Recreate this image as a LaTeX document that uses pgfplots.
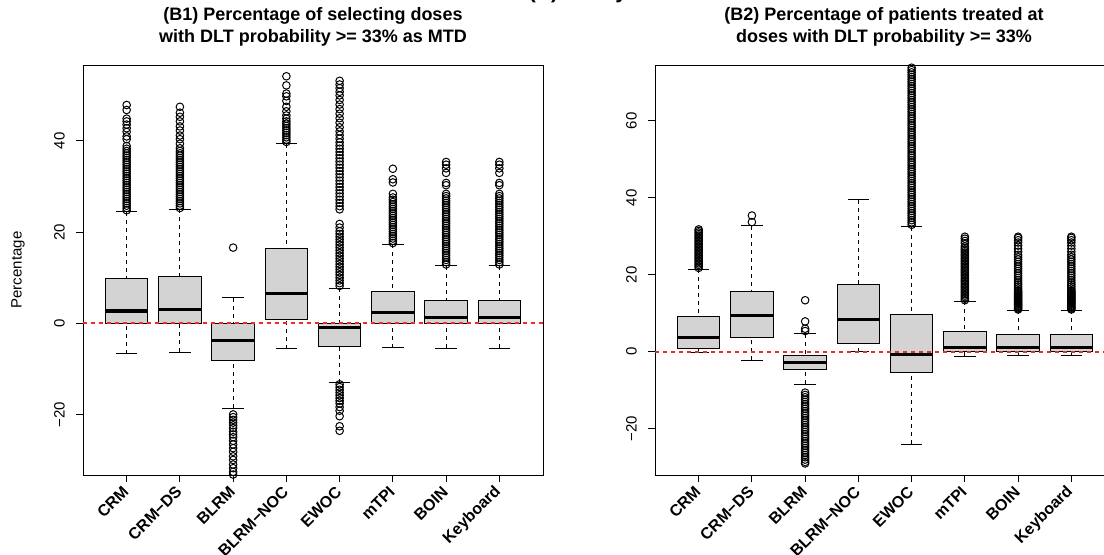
\documentclass[border=0pt]{standalone}
\usepackage{fontspec}
\setmainfont{Liberation Sans}
\usepackage{pgfplots}
\pgfplotsset{compat=1.18}
\usepgfplotslibrary{statistics}

\definecolor{rgray}{RGB}{211,211,211}
\definecolor{rline}{RGB}{240,40,40}

\pgfplotsset{
  rbox/.style={
    black, line width=0.5pt, mark=o, mark size=1.9pt,
    mark options={solid, line width=0.5pt},
    boxplot/draw direction=y,
    boxplot/box extend=0.8, boxplot/whisker extend=0.4,
    boxplot/every box/.style={fill=rgray, draw=black},
    boxplot/every median/.style={line width=1.6pt},
    boxplot/draw/lower whisker/.code={
      \draw[dash pattern=on 2pt off 2pt]
        (boxplot box cs:\pgfplotsboxplotvalue{lower whisker},0.5)
        -- (boxplot box cs:\pgfplotsboxplotvalue{lower quartile},0.5);
      \draw (boxplot whisker cs:\pgfplotsboxplotvalue{lower whisker},0)
        -- (boxplot whisker cs:\pgfplotsboxplotvalue{lower whisker},1);
    },
    boxplot/draw/upper whisker/.code={
      \draw[dash pattern=on 2pt off 2pt]
        (boxplot box cs:\pgfplotsboxplotvalue{upper whisker},0.5)
        -- (boxplot box cs:\pgfplotsboxplotvalue{upper quartile},0.5);
      \draw (boxplot whisker cs:\pgfplotsboxplotvalue{upper whisker},0)
        -- (boxplot whisker cs:\pgfplotsboxplotvalue{upper whisker},1);
    },
  },
  zeroline/.style={draw=rline, line width=0.8pt, dash pattern=on 2pt off 2pt, no marks},
  panel/.style={
    scale only axis, anchor=south west,
    width=230pt, height=204.6pt,
    xmin=0.18, xmax=8.82,
    xtick={1,...,8},
    xticklabels={CRM,CRM−DS,BLRM,BLRM−NOC,EWOC,mTPI,BOIN,Keyboard},
    xticklabel style={xshift=2pt, yshift=-1pt, rotate=45, anchor=east,
      font=\fontsize{8}{9}\selectfont\bfseries},
    yticklabel style={xshift=-2pt, rotate=90, anchor=south, font=\fontsize{7.5}{9}\selectfont},
    xtick pos=bottom, ytick pos=left,
    tick align=outside, major tick length=3.6pt,
    every tick/.style={black, line width=0.5pt},
    axis line style={line width=0.5pt},
  },
}

\begin{document}
\begin{tikzpicture}

% cut-off overall title
\node[font=\bfseries\fontsize{10.5}{12}\selectfont, anchor=base] at (289pt,277.6pt) {(B) Safety};

% ---------- (B1) ----------
\node[font=\bfseries\fontsize{9}{11}\selectfont, align=center] at (156.5pt,263.5pt)
  {(B1) Percentage of selecting doses\\with DLT probability >= 33\% as MTD};
\node[font=\fontsize{7.5}{9}\selectfont, rotate=90] at (9pt,142pt) {Percentage};

\begin{axis}[panel, at={(41.5pt,39.5pt)},
  ymin=-33.3, ymax=56.5,
  ytick={-20,0,20,40}, yticklabels={−20,0,20,40}]

% CRM
\addplot[rbox, boxplot prepared={draw position=1, lower whisker=-6.7, lower quartile=0,
  median=2.7, upper quartile=9.9, upper whisker=24.5}]
  table[row sep=\\, y index=0, header=false] {24.8\\25.3\\25.8\\26.3\\26.8\\27.3\\27.8\\28.3\\28.8\\29.3\\29.8\\30.3\\30.8\\31.3\\31.8\\32.3\\32.8\\33.3\\33.8\\34.3\\34.8\\35.3\\35.8\\36.3\\36.8\\37.3\\37.8\\38.3\\38.9\\40.4\\41.0\\42.0\\42.8\\43.6\\44.3\\44.9\\46.8\\47.9\\};
% CRM-DS
\addplot[rbox, boxplot prepared={draw position=2, lower whisker=-6.4, lower quartile=0,
  median=3.1, upper quartile=10.2, upper whisker=25.0}]
  table[row sep=\\, y index=0, header=false] {25.3\\25.8\\26.3\\26.8\\27.3\\27.8\\28.3\\28.8\\29.3\\29.8\\30.3\\30.8\\31.3\\31.8\\32.3\\32.8\\33.3\\33.8\\34.3\\34.8\\35.3\\35.8\\36.3\\36.8\\37.3\\37.8\\38.4\\39.4\\40.4\\41.2\\42.3\\43.2\\44.3\\45.3\\46.2\\47.5\\};
% BLRM
\addplot[rbox, boxplot prepared={draw position=3, lower whisker=-18.7, lower quartile=-8.1,
  median=-3.7, upper quartile=0, upper whisker=5.6}]
  table[row sep=\\, y index=0, header=false] {16.6\\-20.0\\-20.6\\-21.2\\-21.8\\-22.4\\-23.0\\-23.8\\-24.4\\-25.0\\-25.8\\-26.6\\-27.4\\-28.2\\-29.2\\-30.0\\-31.0\\-31.8\\-32.6\\-33.2\\};
% BLRM-NOC
\addplot[rbox, boxplot prepared={draw position=4, lower whisker=-5.6, lower quartile=0.9,
  median=6.6, upper quartile=16.3, upper whisker=39.4}]
  table[row sep=\\, y index=0, header=false] {39.8\\40.3\\40.8\\41.3\\41.8\\42.3\\42.8\\43.3\\43.8\\44.3\\44.9\\45.6\\46.5\\47.5\\48.8\\49.8\\50.4\\52.2\\54.2\\};
% EWOC
\addplot[rbox, boxplot prepared={draw position=5, lower whisker=-13.0, lower quartile=-5.2,
  median=-1.0, upper quartile=0, upper whisker=7.7}]
  table[row sep=\\, y index=0, header=false] {8.2\\8.8\\9.4\\10.0\\10.6\\11.2\\11.8\\12.4\\13.0\\13.6\\14.2\\14.8\\15.4\\16.0\\16.6\\17.2\\17.8\\18.4\\19.0\\19.6\\20.2\\21.0\\21.8\\25.0\\25.7\\26.4\\27.1\\27.8\\28.5\\29.2\\29.9\\30.6\\31.3\\32.0\\32.7\\33.4\\34.1\\34.8\\35.5\\36.2\\36.9\\37.6\\38.3\\39.0\\39.7\\40.5\\41.3\\42.1\\43.0\\44.0\\45.0\\46.0\\47.0\\48.0\\49.0\\50.0\\50.8\\51.6\\52.4\\53.2\\-13.4\\-14.0\\-14.6\\-15.2\\-15.8\\-16.4\\-17.0\\-17.6\\-18.4\\-19.2\\-20.4\\-22.6\\-23.6\\};
% mTPI
\addplot[rbox, boxplot prepared={draw position=6, lower whisker=-5.4, lower quartile=0,
  median=2.3, upper quartile=7.0, upper whisker=17.3}]
  table[row sep=\\, y index=0, header=false] {17.6\\18.1\\18.6\\19.1\\19.6\\20.1\\20.6\\21.1\\21.6\\22.1\\22.6\\23.1\\23.6\\24.1\\24.6\\25.1\\25.6\\26.1\\26.6\\27.1\\27.6\\28.4\\30.9\\31.6\\33.9\\};
% BOIN
\addplot[rbox, boxplot prepared={draw position=7, lower whisker=-5.5, lower quartile=0,
  median=1.3, upper quartile=5.0, upper whisker=12.6}]
  table[row sep=\\, y index=0, header=false] {12.9\\13.4\\13.9\\14.4\\14.9\\15.4\\15.9\\16.4\\16.9\\17.4\\17.9\\18.4\\18.9\\19.4\\19.9\\20.4\\20.9\\21.4\\21.9\\22.4\\22.9\\23.4\\23.9\\24.4\\24.9\\25.4\\25.9\\26.4\\26.9\\27.4\\27.9\\28.4\\30.3\\30.8\\33.0\\34.0\\34.8\\35.4\\};
% Keyboard
\addplot[rbox, boxplot prepared={draw position=8, lower whisker=-5.5, lower quartile=0,
  median=1.3, upper quartile=5.0, upper whisker=12.6}]
  table[row sep=\\, y index=0, header=false] {12.9\\13.4\\13.9\\14.4\\14.9\\15.4\\15.9\\16.4\\16.9\\17.4\\17.9\\18.4\\18.9\\19.4\\19.9\\20.4\\20.9\\21.4\\21.9\\22.4\\22.9\\23.4\\23.9\\24.4\\24.9\\25.4\\25.9\\26.4\\26.9\\27.4\\27.9\\28.4\\30.3\\30.8\\33.0\\34.0\\34.8\\35.4\\};

\addplot[zeroline] coordinates {(0.18,0) (8.82,0)};
\end{axis}

% ---------- (B2) ----------
\node[font=\bfseries\fontsize{9}{11}\selectfont, align=center] at (442pt,263.5pt)
  {(B2) Percentage of patients treated at\\doses with DLT probability >= 33\%};

\begin{axis}[panel, at={(327.5pt,39.5pt)},
  ymin=-32.0, ymax=74.3,
  ytick={-20,0,20,40,60}, yticklabels={−20,0,20,40,60}]

% CRM
\addplot[rbox, boxplot prepared={draw position=1, lower whisker=-0.2, lower quartile=0.8,
  median=3.8, upper quartile=9.3, upper whisker=21.5}]
  table[row sep=\\, y index=0, header=false] {21.8\\22.2\\22.6\\23.0\\23.4\\23.8\\24.2\\24.6\\25.0\\25.4\\25.8\\26.2\\26.6\\27.0\\27.4\\27.8\\28.2\\28.6\\29.0\\29.4\\29.8\\30.2\\30.6\\31.0\\31.4\\31.8\\};
% CRM-DS
\addplot[rbox, boxplot prepared={draw position=2, lower whisker=-2.2, lower quartile=3.6,
  median=9.4, upper quartile=15.6, upper whisker=32.8}]
  table[row sep=\\, y index=0, header=false] {33.7\\35.4\\};
% BLRM
\addplot[rbox, boxplot prepared={draw position=3, lower whisker=-8.4, lower quartile=-4.7,
  median=-2.8, upper quartile=-0.9, upper whisker=4.7}]
  table[row sep=\\, y index=0, header=false] {5.4\\6.0\\7.9\\13.4\\-10.6\\-11.2\\-11.8\\-12.4\\-13.0\\-13.6\\-14.2\\-14.8\\-15.4\\-16.0\\-16.6\\-17.2\\-17.8\\-18.4\\-19.0\\-19.6\\-20.2\\-20.8\\-21.4\\-22.0\\-22.6\\-23.2\\-23.8\\-24.4\\-25.0\\-25.6\\-26.2\\-26.8\\-27.4\\-28.0\\-28.6\\-29.0\\};
% BLRM-NOC
\addplot[rbox, boxplot prepared={draw position=4, lower whisker=0.0, lower quartile=2.2,
  median=8.3, upper quartile=17.4, upper whisker=39.5}]
  coordinates {};
% EWOC
\addplot[rbox, boxplot prepared={draw position=5, lower whisker=-24.0, lower quartile=-5.4,
  median=-0.7, upper quartile=9.7, upper whisker=32.5}]
  table[row sep=\\, y index=0, header=false] {33.0\\33.6\\34.2\\34.8\\35.4\\36.0\\36.6\\37.2\\37.8\\38.4\\39.0\\39.6\\40.2\\40.8\\41.4\\42.0\\42.6\\43.2\\43.8\\44.4\\45.0\\45.6\\46.2\\46.8\\47.4\\48.0\\48.6\\49.2\\49.8\\50.4\\51.0\\51.6\\52.2\\52.8\\53.4\\54.0\\54.6\\55.2\\55.8\\56.4\\57.0\\57.6\\58.2\\58.8\\59.4\\60.0\\60.6\\61.2\\61.8\\62.4\\63.0\\63.6\\64.2\\64.8\\65.4\\66.0\\66.6\\67.2\\67.8\\68.4\\69.0\\69.6\\70.2\\70.8\\71.4\\72.0\\72.6\\73.2\\73.8\\};
% mTPI
\addplot[rbox, boxplot prepared={draw position=6, lower whisker=-1.2, lower quartile=0,
  median=1.1, upper quartile=5.2, upper whisker=13.2}]
  table[row sep=\\, y index=0, header=false] {13.4\\13.8\\14.2\\14.6\\15.0\\15.4\\15.8\\16.2\\16.6\\17.0\\17.4\\17.8\\18.2\\18.6\\19.0\\19.4\\19.8\\20.2\\20.6\\21.0\\21.4\\21.8\\22.2\\22.6\\23.0\\23.4\\23.8\\24.2\\24.6\\25.0\\25.4\\25.8\\26.2\\26.6\\27.0\\27.4\\28.2\\28.8\\29.4\\29.9\\};
% BOIN
\addplot[rbox, boxplot prepared={draw position=7, lower whisker=-0.9, lower quartile=0,
  median=1.2, upper quartile=4.4, upper whisker=10.8}]
  table[row sep=\\, y index=0, header=false] {11.0\\11.25\\11.5\\11.75\\12.0\\12.25\\12.5\\12.75\\13.0\\13.25\\13.5\\13.75\\14.0\\14.25\\14.5\\14.75\\15.0\\15.25\\15.5\\15.75\\16.0\\16.5\\17.0\\17.5\\18.0\\18.6\\19.2\\19.8\\20.4\\21.0\\21.6\\22.2\\22.8\\23.4\\24.0\\24.6\\25.2\\26.0\\26.8\\27.6\\28.4\\29.0\\29.6\\29.9\\};
% Keyboard
\addplot[rbox, boxplot prepared={draw position=8, lower whisker=-0.9, lower quartile=0,
  median=1.2, upper quartile=4.4, upper whisker=10.8}]
  table[row sep=\\, y index=0, header=false] {11.0\\11.25\\11.5\\11.75\\12.0\\12.25\\12.5\\12.75\\13.0\\13.25\\13.5\\13.75\\14.0\\14.25\\14.5\\14.75\\15.0\\15.25\\15.5\\15.75\\16.0\\16.5\\17.0\\17.5\\18.0\\18.6\\19.2\\19.8\\20.4\\21.0\\21.6\\22.2\\22.8\\23.4\\24.0\\24.6\\25.2\\26.0\\26.8\\27.6\\28.4\\29.0\\29.6\\29.9\\};

\addplot[zeroline] coordinates {(0.18,0) (8.82,0)};
\end{axis}

\pgfresetboundingbox
\useasboundingbox (0pt,0pt) rectangle (552pt,277pt);
\end{tikzpicture}
\end{document}
